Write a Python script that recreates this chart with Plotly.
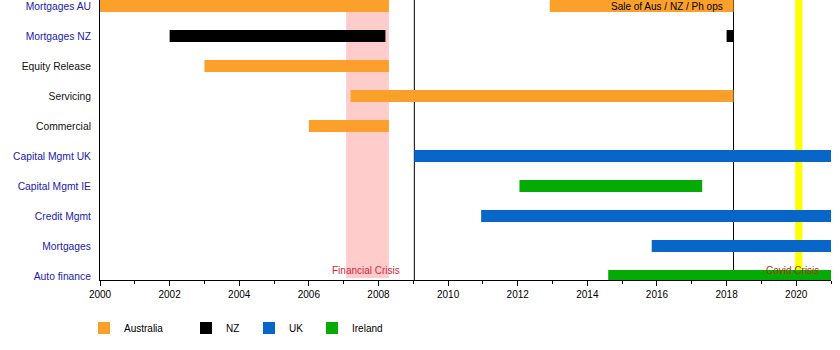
import plotly.graph_objects as go

# ---------------- data ----------------
categories = ["Mortgages AU", "Mortgages NZ", "Equity Release", "Servicing", "Commercial",
              "Capital Mgmt UK", "Capital Mgmt IE", "Credit Mgmt", "Mortgages", "Auto finance"]
category_link = [True, True, False, False, False, True, True, True, True, True]

regions = ["Australia", "NZ", "UK", "Ireland"]
region_colors = ["#fba12b", "#000000", "#0866c8", "#04ab04"]

bar_rows = ["Mortgages AU", "Mortgages AU", "Mortgages NZ", "Mortgages NZ", "Equity Release",
            "Servicing", "Commercial", "Capital Mgmt UK", "Capital Mgmt IE", "Credit Mgmt",
            "Mortgages", "Auto finance"]
bar_start = [2000.0, 2012.92, 2002.0, 2018.0, 2003.0, 2007.2, 2006.0, 2009.03, 2012.05, 2010.95, 2015.85, 2014.6]
bar_end = [2008.3, 2018.2, 2008.2, 2018.2, 2008.3, 2018.2, 2008.3, 2021.5, 2017.3, 2021.5, 2021.5, 2021.5]
bar_region = ["Australia", "Australia", "NZ", "NZ", "Australia", "Australia", "Australia",
              "UK", "Ireland", "UK", "UK", "Ireland"]

event_lines = [2009.03, 2018.2]
crisis_names = ["Financial Crisis", "Covid Crisis"]
crisis_start = [2007.07, 2019.97]
crisis_end = [2008.3, 2020.18]
crisis_colors = ["#ffcccc", "#ffff00"]
crisis_label_x = [2007.64, 2019.88]
crisis_text_colors = ["#dd2238", "#b03418"]

sale_text = "Sale of Aus / NZ / Ph ops"
sale_text_x = 2017.95

x_range = [2000, 2021]
x_ticks = list(range(2000, 2021, 2))

# ---------------- figure ----------------
FONT = "Liberation Sans, Arial, sans-serif"
W, H = 840, 350
n = len(categories)
ypos = {c: n - 1 - i for i, c in enumerate(categories)}

fig = go.Figure()
legend_names = ["legend", "legend2", "legend3", "legend4"]
for k, (reg, col) in enumerate(zip(regions, region_colors)):
    idx = [i for i, r in enumerate(bar_region) if r == reg]
    fig.add_trace(go.Bar(
        orientation="h",
        y=[ypos[bar_rows[i]] for i in idx],
        x=[bar_end[i] - bar_start[i] for i in idx],
        base=[bar_start[i] for i in idx],
        width=0.4,
        marker=dict(color=col, line=dict(width=0)),
        name=reg,
        legend=legend_names[k],
        showlegend=True,
    ))

shapes = []
for s, e, c in zip(crisis_start, crisis_end, crisis_colors):
    shapes.append(dict(type="rect", xref="x", yref="paper", x0=s, x1=e, y0=0.007, y1=1,
                       fillcolor=c, line=dict(width=0), layer="below"))
for xv in event_lines:
    shapes.append(dict(type="line", xref="x", yref="paper", x0=xv, x1=xv, y0=0, y1=1,
                       line=dict(color="black", width=1), layer="below"))

annotations = [dict(x=sale_text_x, y=ypos["Mortgages AU"], xref="x", yref="y", text=sale_text,
                    showarrow=False, xanchor="right", yanchor="middle",
                    font=dict(family=FONT, size=10, color="black"))]
for name, lx, tc in zip(crisis_names, crisis_label_x, crisis_text_colors):
    annotations.append(dict(x=lx, y=0.17, xref="x", yref="y", text=name, showarrow=False,
                            xanchor="center", yanchor="middle",
                            font=dict(family=FONT, size=10, color=tc)))

ticktext = []
for c, link in zip(categories, category_link):
    color = "#1a1aae" if link else "#111111"
    ticktext.append(f"<span style='color:{color}'>{c}</span>")

legend_px = [84, 186, 249, 312]
legends = {}
for k, ln in enumerate(legend_names):
    legends[ln] = dict(x=legend_px[k] / W, y=(H - 328) / H, xref="container", yref="container",
                       xanchor="left", yanchor="middle", orientation="h",
                       font=dict(family=FONT, size=10, color="black"),
                       bgcolor="rgba(0,0,0,0)", borderwidth=0)

fig.update_layout(
    width=W, height=H,
    margin=dict(l=100, r=9, t=0, b=70),
    paper_bgcolor="white", plot_bgcolor="white",
    barmode="overlay",
    font=dict(family=FONT, size=10, color="black"),
    shapes=shapes,
    annotations=annotations,
    xaxis=dict(range=x_range, tickvals=x_ticks, ticktext=[str(t) for t in x_ticks],
               showgrid=False, zeroline=False, showline=True, linecolor="black", linewidth=1,
               ticks="outside", ticklen=5, tickcolor="black", tickwidth=1,
               minor=dict(dtick=1, tick0=2000, ticks="outside", ticklen=3, tickcolor="black",
                          showgrid=False),
               tickfont=dict(family=FONT, size=10, color="black")),
    yaxis=dict(range=[-0.133, n - 1 + 0.2], tickvals=[ypos[c] for c in categories],
               ticktext=ticktext, showgrid=False, zeroline=False, showline=True,
               linecolor="black", linewidth=1, ticks="", ticklabelstandoff=6,
               tickfont=dict(family=FONT, size=10.3)),
    **legends,
)

fig.write_html("out.html")
